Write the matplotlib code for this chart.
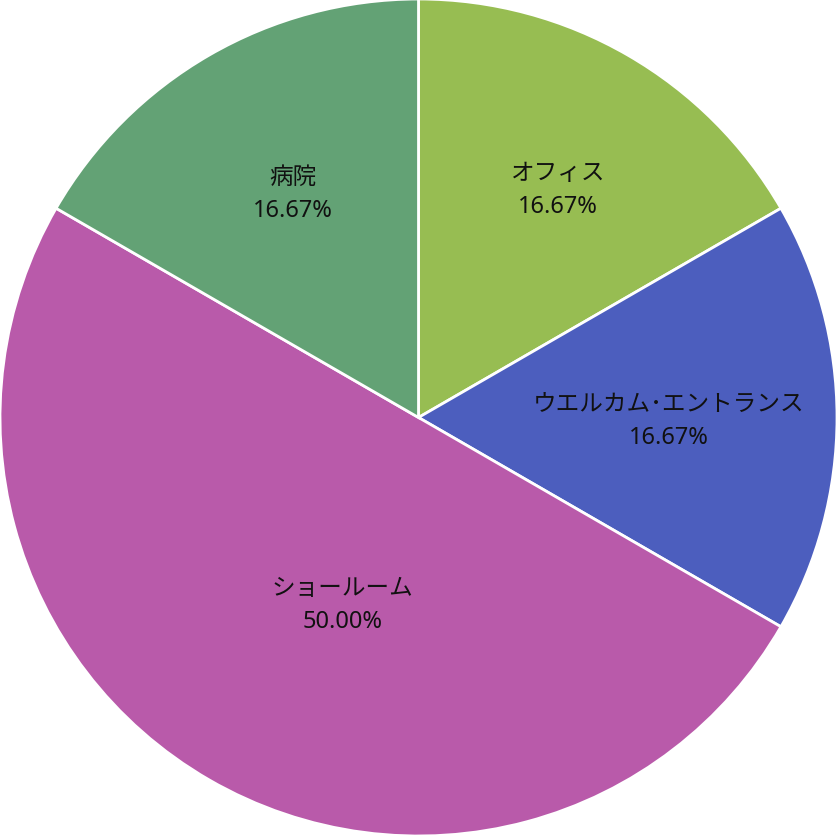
import matplotlib
matplotlib.use("Agg")
import matplotlib.pyplot as plt
import numpy as np

plt.rcParams['font.family'] = ['Noto Sans', 'Noto Sans CJK JP', 'DejaVu Sans']

categories = ['オフィス', 'ウエルカム･エントランス', 'ショールーム', '病院']
values = [1, 1, 3, 1]
colors = ['#97BD52', '#4C5EBE', '#B95AAA', '#63A275']
# label anchor positions (data units, pie radius = 1)
label_pos = [(0.333, 0.545), (0.598, -0.007), (-0.182, -0.447), (-0.301, 0.536)]

fig = plt.figure(figsize=(8.37, 8.37), dpi=100)
ax = fig.add_axes([0, 0, 1, 1])
total = sum(values)
labels = [f"{c}\n{v / total * 100:.2f}%" for c, v in zip(categories, values)]
wedges, texts = ax.pie(values, colors=colors, startangle=90, counterclock=False,
                       radius=1.0, labels=labels, labeldistance=0.6,
                       wedgeprops=dict(edgecolor='white', linewidth=2),
                       textprops=dict(fontsize=17, ha='center', va='center',
                                      linespacing=1.5, color='#111111'))
for t, p in zip(texts, label_pos):
    t.set_horizontalalignment('center')
    t.set_verticalalignment('center')
    t.set_position(p)
ax.set_xlim(-1.0, 1.0)
ax.set_ylim(-1.0, 1.0)
ax.set_aspect('equal')
ax.axis('off')
fig.savefig('out.png', dpi=100)
